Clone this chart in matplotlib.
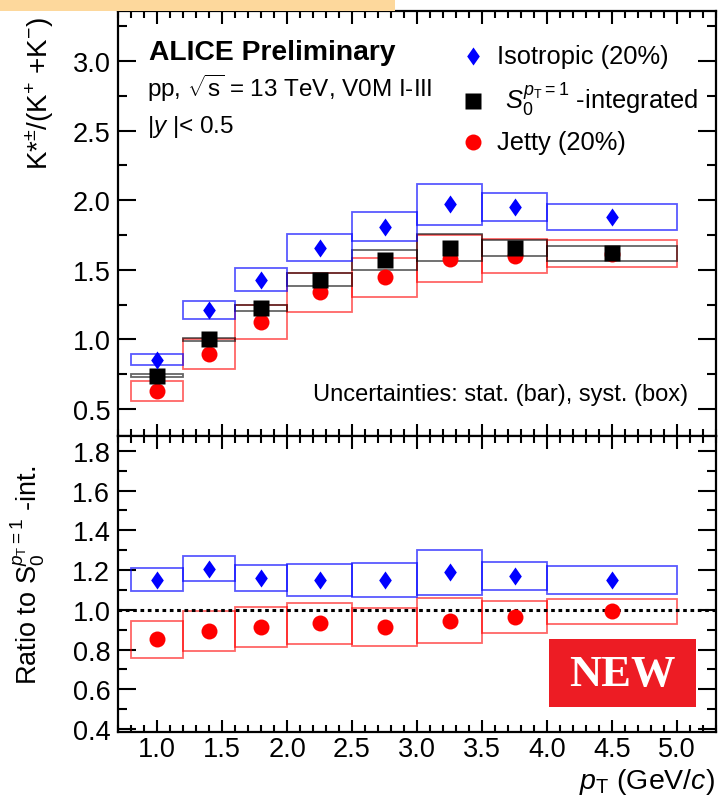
import matplotlib
matplotlib.use("Agg")
import matplotlib.pyplot as plt
from matplotlib.path import Path
from matplotlib.patches import Rectangle
from matplotlib.ticker import MultipleLocator, FormatStrFormatter

plt.rcParams['font.family'] = ['Liberation Sans', 'DejaVu Sans']
plt.rcParams['mathtext.fontset'] = 'custom'
plt.rcParams['mathtext.rm'] = 'Liberation Sans'
plt.rcParams['mathtext.it'] = 'Liberation Sans:italic'
plt.rcParams['mathtext.bf'] = 'Liberation Sans:bold'

# ---------------- data ----------------
pt = [1.0, 1.4, 1.8, 2.25, 2.75, 3.25, 3.75, 4.5]
pt_lo = [0.8, 1.2, 1.6, 2.0, 2.5, 3.0, 3.5, 4.0]
pt_hi = [1.2, 1.6, 2.0, 2.5, 3.0, 3.5, 4.0, 5.0]

iso = [0.855, 1.21, 1.43, 1.66, 1.81, 1.97, 1.95, 1.88]
iso_sys = [0.042, 0.065, 0.08, 0.10, 0.105, 0.15, 0.10, 0.095]

integ = [0.74, 1.00, 1.225, 1.43, 1.57, 1.66, 1.66, 1.62]
integ_sys = [0.008, 0.01, 0.02, 0.048, 0.07, 0.10, 0.058, 0.054]

jet = [0.63, 0.895, 1.125, 1.34, 1.445, 1.58, 1.60, 1.615]
jet_sys = [0.07, 0.105, 0.12, 0.14, 0.137, 0.167, 0.124, 0.096]

r_iso = [1.152, 1.208, 1.16, 1.15, 1.15, 1.188, 1.172, 1.152]
r_iso_sys = [0.057, 0.065, 0.066, 0.08, 0.084, 0.114, 0.07, 0.07]

r_jet = [0.852, 0.894, 0.912, 0.932, 0.915, 0.945, 0.963, 0.992]
r_jet_sys = [0.094, 0.10, 0.10, 0.103, 0.096, 0.114, 0.08, 0.063]

x_ticks = [1.0, 1.5, 2.0, 2.5, 3.0, 3.5, 4.0, 4.5, 5.0]

# ---------------- figure ----------------
W, H = 721, 804
fig = plt.figure(figsize=(W / 100, H / 100), dpi=100)

def fx(px):
    return px / W

def fy(py):
    return 1 - py / H

L, R = 118, 716
ax1 = fig.add_axes([fx(L), fy(437), fx(R) - fx(L), fy(12) - fy(437)])
ax2 = fig.add_axes([fx(L), fy(733), fx(R) - fx(L), fy(437) - fy(733)], sharex=ax1)

diamond = Path([(0, 1), (0.7, 0), (0, -1), (-0.7, 0), (0, 1)],
               [Path.MOVETO, Path.LINETO, Path.LINETO, Path.LINETO, Path.CLOSEPOLY])

BLUE = '#0000ff'
RED = '#ff0000'
TICK_FS = 19.5

def boxes(ax, y, err, color, alpha, z):
    widths = [h - l for l, h in zip(pt_lo, pt_hi)]
    bottoms = [v - e for v, e in zip(y, err)]
    heights = [2 * e for e in err]
    ax.bar(pt_lo, heights, width=widths, bottom=bottoms, align='edge',
           fill=False, edgecolor=color, linewidth=1.3, alpha=alpha, zorder=z)

# top panel
boxes(ax1, jet, jet_sys, RED, 0.6, 2)
boxes(ax1, integ, integ_sys, 'black', 0.6, 2)
boxes(ax1, iso, iso_sys, BLUE, 0.65, 2)
ax1.plot(pt, jet, 'o', color=RED, ms=11.5, mec='none', zorder=4)
ax1.plot(pt, integ, 's', color='black', ms=11.5, mec='none', zorder=5)
ax1.plot(pt, iso, marker=diamond, ls='none', color=BLUE, ms=13, mec='none', zorder=6)

# bottom panel
boxes(ax2, r_jet, r_jet_sys, RED, 0.6, 2)
boxes(ax2, r_iso, r_iso_sys, BLUE, 0.65, 2)
ax2.axhline(1.0, color='black', ls=(0, (1.2, 1.2)), lw=2.2, zorder=3)
ax2.plot(pt, r_jet, 'o', color=RED, ms=11.5, mec='none', zorder=4)
ax2.plot(pt, r_iso, marker=diamond, ls='none', color=BLUE, ms=13, mec='none', zorder=6)

# axes cosmetics
ax1.set_xlim(0.7, 5.3)
ax1.set_ylim(0.306, 3.36)
ax2.set_ylim(0.385, 1.875)

for ax in (ax1, ax2):
    for s in ax.spines.values():
        s.set_linewidth(1.6)
    ax.xaxis.set_major_locator(MultipleLocator(0.5))
    ax.xaxis.set_minor_locator(MultipleLocator(0.1))
    ax.tick_params(which='both', direction='in', top=True, right=True,
                   width=1.5, labelsize=TICK_FS, colors='black')
    ax.tick_params(axis='x', which='major', length=9)
    ax.tick_params(axis='x', which='minor', length=5)
    ax.tick_params(axis='y', which='major', length=13, pad=5.5)
    ax.tick_params(axis='y', which='minor', length=6.5)

ax1.yaxis.set_major_locator(MultipleLocator(0.5))
ax1.yaxis.set_minor_locator(MultipleLocator(0.25))
ax1.yaxis.set_major_formatter(FormatStrFormatter('%.1f'))
ax1.tick_params(axis='x', labelbottom=False)

ax2.yaxis.set_major_locator(MultipleLocator(0.2))
ax2.yaxis.set_minor_locator(MultipleLocator(0.1))
ax2.yaxis.set_major_formatter(FormatStrFormatter('%.1f'))
ax2.set_xticks(x_ticks)
ax2.xaxis.set_major_formatter(FormatStrFormatter('%.1f'))
ax2.tick_params(axis='x', pad=3)

# labels
fig.text(fx(40), fy(93), r'K*$^{\pm}$/(K$^{+}$ +K$^{-}$)', rotation=90,
         ha='center', va='center', fontsize=20)
fig.text(fx(28), fy(575), r'Ratio to S$_{0}^{p_{\mathrm{T}}=1}$ -int.', rotation=90,
         ha='center', va='center', fontsize=19.5)
fig.text(fx(715), fy(789), r'$p_{\mathrm{T}}$ (GeV/$c$)', ha='right', va='baseline',
         fontsize=20.5)

# annotations in top panel
fig.text(fx(149), fy(53), 'ALICE Preliminary', ha='left', va='center',
         fontsize=20.3, fontweight='bold')
fig.text(fx(147), fy(88), r'pp, $\sqrt{\mathrm{s}}$ = 13 TeV, V0M I-III', ha='left',
         va='center', fontsize=17.5)
fig.text(fx(147), fy(127), r'|$y$ |< 0.5', ha='left', va='center', fontsize=17.5)
fig.text(fx(688), fy(395), 'Uncertainties: stat. (bar), syst. (box)', ha='right',
         va='center', fontsize=17)

# legend
lx = 473
fig.lines.append(plt.Line2D([fx(lx)], [fy(57)], marker=diamond, color=BLUE, ms=13,
                            mec='none', ls='none', transform=fig.transFigure))
fig.lines.append(plt.Line2D([fx(lx)], [fy(102)], marker='s', color='black', ms=11.5,
                            mec='none', ls='none', transform=fig.transFigure))
fig.lines.append(plt.Line2D([fx(lx)], [fy(143)], marker='o', color=RED, ms=11.5,
                            mec='none', ls='none', transform=fig.transFigure))
fig.text(fx(497), fy(57), 'Isotropic (20%)', ha='left', va='center', fontsize=18.4)
fig.text(fx(505), fy(100), r'$S_{0}^{p_{\mathrm{T}}=1}$ -integrated', ha='left',
         va='center', fontsize=18.4)
fig.text(fx(497), fy(143), 'Jetty (20%)', ha='left', va='center', fontsize=18.4)

# NEW badge
fig.patches.append(Rectangle((fx(549), fy(708)), fx(696) - fx(549), fy(640) - fy(708),
                             transform=fig.transFigure, facecolor='#ed1c24',
                             edgecolor='none', zorder=10))
fig.text(fx(622), fy(675), 'NEW', ha='center', va='center', fontsize=32,
         fontweight='bold', family='Liberation Serif', color='white', zorder=11)

# top banner
fig.patches.append(Rectangle((0, fy(12)), fx(395), 12 / H, transform=fig.transFigure,
                             facecolor='#fdd89c', edgecolor='none', zorder=10))

fig.savefig('out.png', dpi=100)
